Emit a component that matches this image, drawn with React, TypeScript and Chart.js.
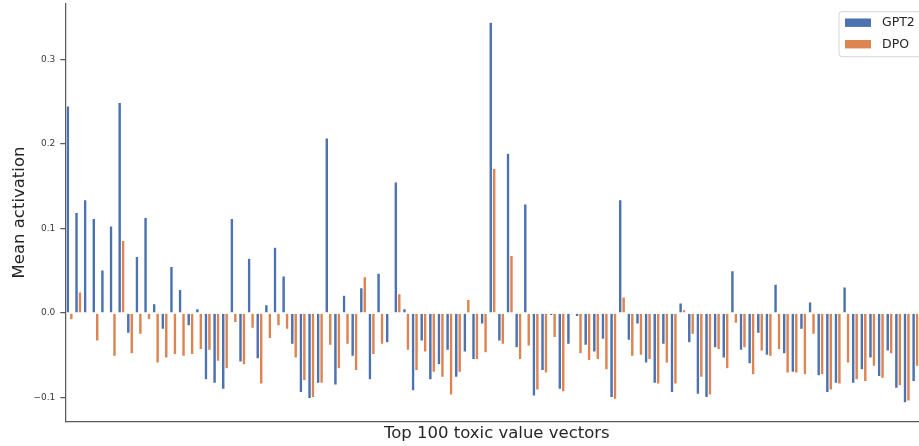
import React, { useEffect, useRef } from "react";
import { Chart, registerables } from "chart.js";

Chart.register(...registerables);

const categories: string[] = Array.from({ length: 100 }, (_, i) => `v${i + 1}`);

const gpt2: number[] = [
  0.245, 0.119, 0.134, 0.112, 0.051, 0.103, 0.249, -0.024, 0.067, 0.113,
  0.011, -0.019, 0.055, 0.028, -0.015, 0.005, -0.079, -0.083, -0.09, 0.112,
  -0.058, 0.065, -0.054, 0.01, 0.078, 0.044, -0.037, -0.094, -0.101, -0.083,
  0.207, -0.085, 0.021, -0.051, 0.03, -0.079, 0.047, -0.035, 0.155, 0.005,
  -0.092, -0.033, -0.079, -0.061, -0.044, -0.076, -0.046, -0.055, -0.013, 0.344,
  -0.033, 0.189, -0.041, 0.129, -0.098, -0.068, -0.003, -0.09, -0.037, -0.004,
  -0.038, -0.046, -0.031, -0.1, 0.134, -0.032, -0.013, -0.059, -0.083, -0.037,
  -0.094, 0.012, -0.035, -0.096, -0.1, -0.041, -0.053, 0.05, -0.044, -0.06,
  -0.024, -0.05, 0.034, -0.048, -0.07, -0.019, 0.013, -0.074, -0.094, -0.083,
  0.031, -0.083, -0.067, -0.053, -0.075, -0.045, -0.089, -0.106, -0.081, -0.06,
];

const dpo: number[] = [
  -0.008, 0.025, 0.001, -0.033, 0.0, -0.051, 0.086, -0.048, -0.025, -0.008,
  -0.059, -0.053, -0.049, -0.051, -0.049, -0.043, -0.044, -0.057, -0.066, -0.011,
  -0.061, -0.018, -0.084, -0.03, -0.015, -0.019, -0.053, -0.08, -0.1, -0.083,
  -0.038, -0.066, -0.037, -0.068, 0.043, -0.049, -0.037, 0.001, 0.023, -0.044,
  -0.068, -0.046, -0.07, -0.076, -0.097, -0.07, 0.016, -0.055, -0.047, 0.171,
  -0.037, 0.068, -0.055, -0.039, -0.091, -0.071, -0.029, -0.093, -0.002, -0.048,
  -0.056, -0.055, -0.067, -0.102, 0.019, -0.051, -0.05, -0.055, -0.084, -0.059,
  -0.084, 0.004, -0.025, -0.076, -0.097, -0.043, -0.066, -0.012, -0.041, -0.073,
  -0.045, -0.051, -0.043, -0.071, -0.071, -0.073, -0.025, -0.073, -0.091, -0.084,
  -0.059, -0.079, -0.081, -0.063, -0.077, -0.048, -0.086, -0.104, -0.063, -0.06,
];

const yTicks: number[] = [-0.1, 0.0, 0.1, 0.2, 0.3];
const seriesNames: string[] = ["GPT2", "DPO"];
const seriesColors: string[] = ["#4c72b0", "#dd8452"];

const FONT = "'DejaVu Sans', sans-serif";
const CANVAS_W = 935;
const CANVAS_H = 446;

const legendPlugin = {
  id: "mplLegend",
  afterDraw(chart: any) {
    const ctx = chart.ctx as CanvasRenderingContext2D;
    const x = 839;
    const y = 11.7;
    const w = 86;
    const h = 45;
    const r = 3;
    ctx.save();
    ctx.beginPath();
    ctx.moveTo(x + r, y);
    ctx.lineTo(x + w - r, y);
    ctx.arcTo(x + w, y, x + w, y + r, r);
    ctx.lineTo(x + w, y + h - r);
    ctx.arcTo(x + w, y + h, x + w - r, y + h, r);
    ctx.lineTo(x + r, y + h);
    ctx.arcTo(x, y + h, x, y + h - r, r);
    ctx.lineTo(x, y + r);
    ctx.arcTo(x, y, x + r, y, r);
    ctx.closePath();
    ctx.fillStyle = "rgba(255,255,255,0.8)";
    ctx.fill();
    ctx.strokeStyle = "#d6d6d6";
    ctx.lineWidth = 1;
    ctx.stroke();
    const rows = [22.7, 44.2];
    ctx.font = `12.5px ${FONT}`;
    ctx.textBaseline = "middle";
    ctx.textAlign = "left";
    seriesNames.forEach((name, i) => {
      ctx.fillStyle = seriesColors[i];
      ctx.fillRect(845, rows[i] - 4.2, 26, 8.4);
      ctx.fillStyle = "#262626";
      ctx.fillText(name, 882, rows[i] + 0.5);
    });
    ctx.restore();
  },
};

export default function App() {
  const canvasRef = useRef<HTMLCanvasElement | null>(null);

  useEffect(() => {
    const canvas = canvasRef.current;
    if (!canvas) return;
    const chart = new Chart(canvas, {
      type: "bar",
      data: {
        labels: categories,
        datasets: [
          {
            label: seriesNames[0],
            data: gpt2,
            backgroundColor: seriesColors[0],
            borderColor: "rgba(255,255,255,0.85)",
            borderWidth: 0.5,
            categoryPercentage: 0.8,
            barPercentage: 1.0,
          },
          {
            label: seriesNames[1],
            data: dpo,
            backgroundColor: seriesColors[1],
            borderColor: "rgba(255,255,255,0.85)",
            borderWidth: 0.5,
            categoryPercentage: 0.8,
            barPercentage: 1.0,
          },
        ],
      },
      options: {
        responsive: false,
        animation: false,
        devicePixelRatio: 1,
        layout: { padding: { left: 0, top: 3.3, right: CANVAS_W - 928.3, bottom: 0 } },
        plugins: {
          legend: { display: false },
          tooltip: { enabled: false },
        },
        scales: {
          x: {
            type: "category",
            offset: true,
            grid: { display: false, drawTicks: false },
            border: { display: true, color: "#5a5a5a", width: 1.25 },
            ticks: { display: false },
            title: {
              display: true,
              text: "Top 100 toxic value vectors",
              color: "#262626",
              font: { family: FONT, size: 16.5 },
              padding: { top: 0, bottom: 2 },
            },
            afterFit: (scale: any) => {
              scale.height = CANVAS_H - 421.7;
              scale.paddingLeft = 0;
              scale.paddingRight = 0;
            },
          },
          y: {
            type: "linear",
            min: -0.1285,
            max: 0.3665,
            afterBuildTicks: (scale: any) => {
              scale.ticks = yTicks.map((v) => ({ value: v }));
            },
            grid: {
              display: true,
              drawOnChartArea: false,
              drawTicks: true,
              tickLength: 5,
              color: "#5a5a5a",
              lineWidth: 1.25,
            },
            border: { display: true, color: "#5a5a5a", width: 1.25 },
            ticks: {
              color: "#3a3a3a",
              padding: 5,
              font: { family: FONT, size: 9 },
              callback: (v: any) => {
                const n = Number(v);
                return (n < -1e-9 ? "\u2212" : "") + Math.abs(n).toFixed(1);
              },
            },
            title: {
              display: true,
              text: "Mean activation",
              color: "#262626",
              font: { family: FONT, size: 16.5 },
              padding: { top: 10, bottom: 0 },
            },
            afterFit: (scale: any) => {
              scale.width = 65.3;
              scale.paddingTop = 0;
              scale.paddingBottom = 0;
            },
          },
        },
      },
      plugins: [legendPlugin],
    });
    return () => chart.destroy();
  }, []);

  return (
    <div
      style={{
        position: "fixed",
        left: 0,
        top: 0,
        width: 919,
        height: 446,
        overflow: "hidden",
        background: "#fff",
      }}
    >
      <canvas
        ref={canvasRef}
        width={CANVAS_W}
        height={CANVAS_H}
        style={{ display: "block", width: CANVAS_W, height: CANVAS_H }}
      />
    </div>
  );
}
